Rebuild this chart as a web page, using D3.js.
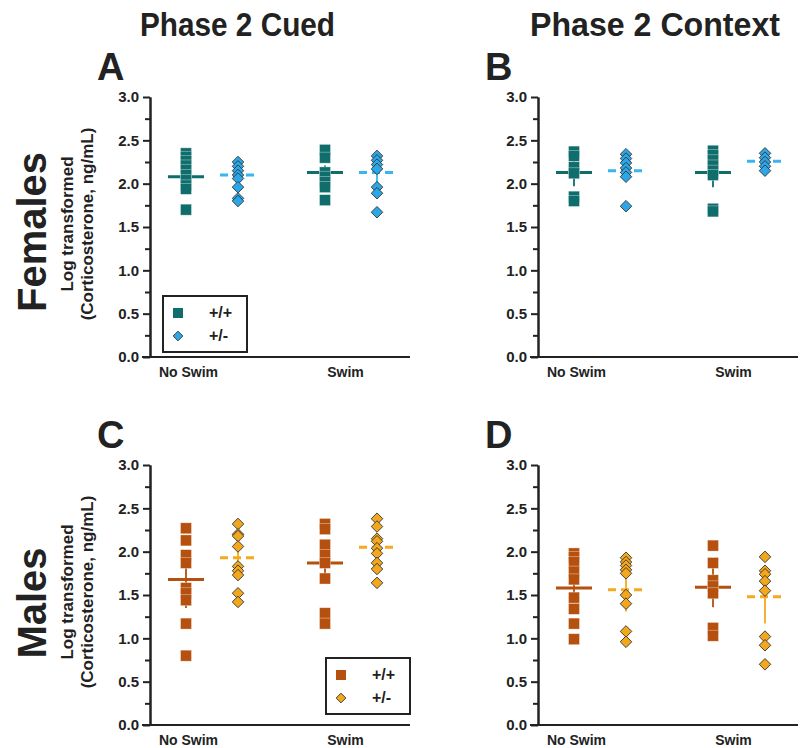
<!DOCTYPE html>
<html>
<head>
<meta charset="utf-8">
<script src="https://cdn.jsdelivr.net/npm/d3@7"></script>
<style>
  body { margin: 0; background: #fff; }
  text { font-family: "Liberation Sans", Arial, sans-serif; font-weight: bold; fill: #222; }
  .axis path, .axis line { stroke: #222; stroke-width: 2; }
  .axis text { font-size: 14px; }
</style>
</head>
<body>
<svg width="800" height="748"></svg>
<script>
var groups = ["No Swim", "Swim"];
var genotypes = ["+/+", "+/-"];
var yTicks = [0, 0.5, 1.0, 1.5, 2.0, 2.5, 3.0];
var yMinor = [0.25, 0.75, 1.25, 1.75, 2.25, 2.75];

// values per panel: [No Swim, Swim]
var aWT  = [[2.35, 2.31, 2.26, 2.21, 2.16, 2.10, 2.04, 1.98, 1.94, 1.70], [2.39, 2.30, 2.13, 2.08, 2.02, 1.96, 1.81]];
var aHet = [[2.25, 2.20, 2.15, 2.10, 2.06, 1.96, 1.83, 1.80], [2.32, 2.27, 2.22, 2.17, 1.96, 1.89, 1.67]];
var aMean = [[2.08, 2.10], [2.13, 2.13]];
var aSem  = [[0.06, 0.05], [0.08, 0.12]];

var bWT  = [[2.37, 2.32, 2.19, 2.12, 1.85, 1.80], [2.38, 2.33, 2.27, 2.21, 2.15, 2.10, 1.71, 1.68]];
var bHet = [[2.34, 2.29, 2.24, 2.18, 2.13, 2.08, 1.74], [2.35, 2.30, 2.25, 2.20, 2.15]];
var bMean = [[2.13, 2.15], [2.13, 2.26]];
var bSem  = [[0.16, 0.06], [0.17, 0.03]];

var cWT  = [[2.27, 2.13, 1.96, 1.87, 1.58, 1.52, 1.44, 1.17, 0.80], [2.32, 2.26, 2.08, 1.96, 1.87, 1.69, 1.29, 1.17]];
var cHet = [[2.32, 2.20, 2.18, 2.06, 1.83, 1.78, 1.73, 1.52, 1.42], [2.38, 2.29, 2.15, 2.12, 2.04, 1.98, 1.87, 1.80, 1.64]];
var cMean = [[1.68, 1.93], [1.87, 2.05]];
var cSem  = [[0.33, 0.13], [0.17, 0.08]];

var dWT  = [[1.98, 1.94, 1.88, 1.77, 1.68, 1.47, 1.34, 1.17, 0.99], [2.07, 1.87, 1.67, 1.60, 1.52, 1.12, 1.03]];
var dHet = [[1.93, 1.88, 1.84, 1.79, 1.75, 1.50, 1.40, 1.08, 0.96], [1.94, 1.78, 1.74, 1.66, 1.55, 1.02, 0.92, 0.70]];
var dMean = [[1.58, 1.56], [1.59, 1.48]];
var dSem  = [[0.13, 0.25], [0.23, 0.31]];

var colTeal = "#0f6d6c", colBlue = "#2ba7e7", colBlueLine = "#37b6f0";
var colRust = "#b5500f", colGold = "#f2a71c", colGoldLine = "#f5a91e";

var svg = d3.select("svg");
var width = 260, height = 260;

var yScale = d3.scaleLinear().domain([0, 3]).range([height, 0]);
var xGroup = d3.scalePoint().domain(groups).range([62, 201]);
var xGeno = d3.scalePoint().domain(genotypes).range([-26, 26]);
var labelShift = {"No Swim": -24, "Swim": -6};

var panels = [
  {letter: "A", x: 150, y: 97, wt: aWT, het: aHet, mean: aMean, sem: aSem, c1: colTeal, c2: colBlue, c2line: colBlueLine, ylab: true, legend: "topleft"},
  {letter: "B", x: 538, y: 97, wt: bWT, het: bHet, mean: bMean, sem: bSem, c1: colTeal, c2: colBlue, c2line: colBlueLine, ylab: false},
  {letter: "C", x: 150, y: 465, wt: cWT, het: cHet, mean: cMean, sem: cSem, c1: colRust, c2: colGold, c2line: colGoldLine, ylab: true, legend: "right"},
  {letter: "D", x: 538, y: 465, wt: dWT, het: dHet, mean: dMean, sem: dSem, c1: colRust, c2: colGold, c2line: colGoldLine, ylab: false}
];

var diamond = d3.symbol().type(d3.symbolDiamond2).size(85);

panels.forEach(function(p) {
  var g = svg.append("g").attr("transform", "translate(" + p.x + "," + p.y + ")");

  g.append("text").attr("x", -53).attr("y", -17)
    .style("font-size", "38px").text(p.letter);

  // axes
  g.append("g").attr("class", "axis")
    .call(d3.axisLeft(yScale).tickValues(yMinor).tickFormat("").tickSize(5).tickSizeOuter(0));
  g.append("g").attr("class", "axis")
    .call(d3.axisLeft(yScale).tickValues(yTicks).tickFormat(d3.format(".1f")).tickSize(7).tickSizeOuter(0))
    .selectAll("text").attr("dx", "-1").style("font-size", "15px");
  var xa = g.append("g").attr("class", "axis")
    .attr("transform", "translate(0," + height + ")")
    .call(d3.axisBottom(xGroup).tickSize(0).tickSizeOuter(0));
  xa.select(".domain").attr("d", "M-8,0H" + width);
  xa.selectAll("text").attr("dy", "1.2em")
    .attr("dx", function(d) { return labelShift[d]; });

  if (p.ylab) {
    var yl = g.append("text").attr("transform", "translate(-77," + (height / 2 - 3) + ") rotate(-90)")
      .attr("text-anchor", "middle").style("font-size", "17px");
    yl.append("tspan").attr("x", 0).attr("dy", 0).text("Log transformed");
    yl.append("tspan").attr("x", 0).attr("dy", "1.2em").text("(Corticosterone, ng/mL)");
  }

  groups.forEach(function(grp, gi) {
    [0, 1].forEach(function(k) {
      var cx = xGroup(grp) + xGeno(genotypes[k]);
      var col = k === 0 ? p.c1 : p.c2line;
      var m = p.mean[gi][k], s = p.sem[gi][k];
      // error bar
      g.append("line")
        .attr("x1", cx).attr("x2", cx)
        .attr("y1", yScale(m - s)).attr("y2", yScale(m + s))
        .attr("stroke", col).attr("stroke-width", 1.8);
      // mean line
      g.append("line")
        .attr("x1", cx - 18).attr("x2", cx + 18)
        .attr("y1", yScale(m)).attr("y2", yScale(m))
        .attr("stroke", col).attr("stroke-width", 3)
        .attr("stroke-dasharray", k === 0 ? null : "8,5");
    });

    var cx0 = xGroup(grp) + xGeno(genotypes[0]);
    g.selectAll(".sq" + gi)
      .data(p.wt[gi])
      .enter()
      .append("rect")
      .attr("x", cx0 - 5.5)
      .attr("y", function(d) { return yScale(d) - 5.5; })
      .attr("width", 11).attr("height", 11)
      .attr("fill", p.c1)
      .attr("stroke", "#fff").attr("stroke-opacity", 0.5).attr("stroke-width", 0.7);

    var cx1 = xGroup(grp) + xGeno(genotypes[1]);
    g.selectAll(".dm" + gi)
      .data(p.het[gi])
      .enter()
      .append("path")
      .attr("d", diamond)
      .attr("transform", function(d) { return "translate(" + cx1 + "," + yScale(d) + ")"; })
      .attr("fill", p.c2)
      .attr("stroke", "#333").attr("stroke-width", 0.9);
  });

  if (p.legend) {
    var lx, ly;
    if (p.legend === "topleft") { lx = 13; ly = 199; } else { lx = 176; ly = 193; }
    var lg = g.append("g").attr("transform", "translate(" + lx + "," + ly + ")");
    lg.append("rect").attr("width", 84).attr("height", 56)
      .attr("fill", "#fff").attr("stroke", "#222").attr("stroke-width", 2);
    genotypes.forEach(function(gt, i) {
      var yy = 17 + i * 23;
      if (i === 0) {
        lg.append("rect").attr("x", 10).attr("y", yy - 5).attr("width", 10).attr("height", 10).attr("fill", p.c1);
      } else {
        lg.append("path").attr("d", d3.symbol().type(d3.symbolDiamond2).size(60))
          .attr("transform", "translate(15," + yy + ")")
          .attr("fill", p.c2).attr("stroke", "#333").attr("stroke-width", 0.9);
      }
      lg.append("text").attr("x", 46).attr("y", yy + 5).style("font-size", "16px").text(gt);
    });
  }
});

// column titles
svg.append("text").attr("x", 140).attr("y", 36)
  .attr("textLength", 195).attr("lengthAdjust", "spacingAndGlyphs")
  .style("font-size", "33px").text("Phase 2 Cued");
svg.append("text").attr("x", 530).attr("y", 36)
  .attr("textLength", 250).attr("lengthAdjust", "spacingAndGlyphs")
  .style("font-size", "33px").text("Phase 2 Context");

// row titles
svg.append("text").attr("transform", "translate(46,232) rotate(-90)")
  .attr("text-anchor", "middle").style("font-size", "40px").text("Females");
svg.append("text").attr("transform", "translate(46,603) rotate(-90)")
  .attr("text-anchor", "middle").style("font-size", "40px").text("Males");
</script>
</body>
</html>
